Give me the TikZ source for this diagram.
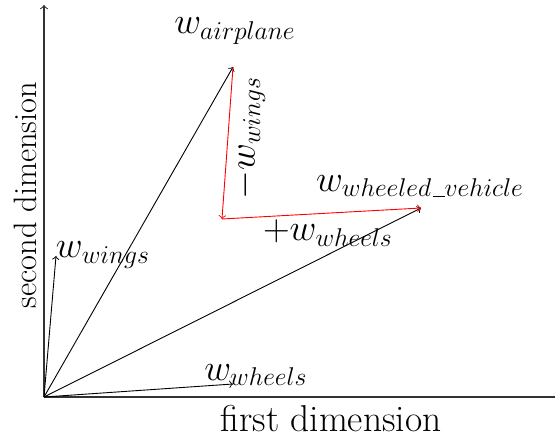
\documentclass[tikz,border=0pt]{standalone}
\newcommand\myus{\mbox{\kern.06em\vbox{\hrule width.3em}}}
\begin{document}
\begin{tikzpicture}[x=0.5pt,y=-0.5pt,
  axis/.style={->,line width=0.55pt,black!80},
  vec/.style={->,black,line width=0.45pt},
  redvec/.style={->,red,line width=0.45pt},
  lbl/.style={font=\LARGE,inner sep=0pt,scale=1.07},
  axlbl/.style={inner sep=0pt}]
\useasboundingbox (0,0) rectangle (555,437);
\coordinate (O) at (44,397);
\coordinate (ytop) at (44,5);
\coordinate (xend) at (565,397);
\coordinate (A) at (233,67);
\coordinate (V) at (421,208);
\coordinate (R) at (222,219);
\coordinate (W) at (56,256);
\coordinate (H) at (233,384);
\draw[axis] (O) -- (ytop);
\draw[axis] (O) -- (xend);
\draw[vec] (O) -- (A);
\draw[vec] (O) -- (V);
\draw[vec] (O) -- (W);
\draw[vec] (O) -- (H);
\draw[redvec] (A) -- (R);
\draw[redvec] (R) -- (V);
\node[lbl] (la) at (235,31) {$w_{airplane}$};
\node[lbl] (lv) at (420,186) {$w_{wheeled\myus vehicle}$};
\node[lbl,rotate=90] (lmw) at (249,138) {$-w_{wings}$};
\node[lbl] (lpw) at (328,233) {$+w_{wheels}$};
\node[lbl] (lw) at (103,255) {$w_{wings}$};
\node[lbl] (lh) at (256,375) {$w_{wheels}$};
\node[axlbl,font=\fontsize{18.7}{20}\selectfont] (xl) at (331,419) {first dimension};
\node[axlbl,font=\fontsize{16.2}{18}\selectfont,rotate=90] (yl) at (25,195) {second dimension};
\end{tikzpicture}
\end{document}
